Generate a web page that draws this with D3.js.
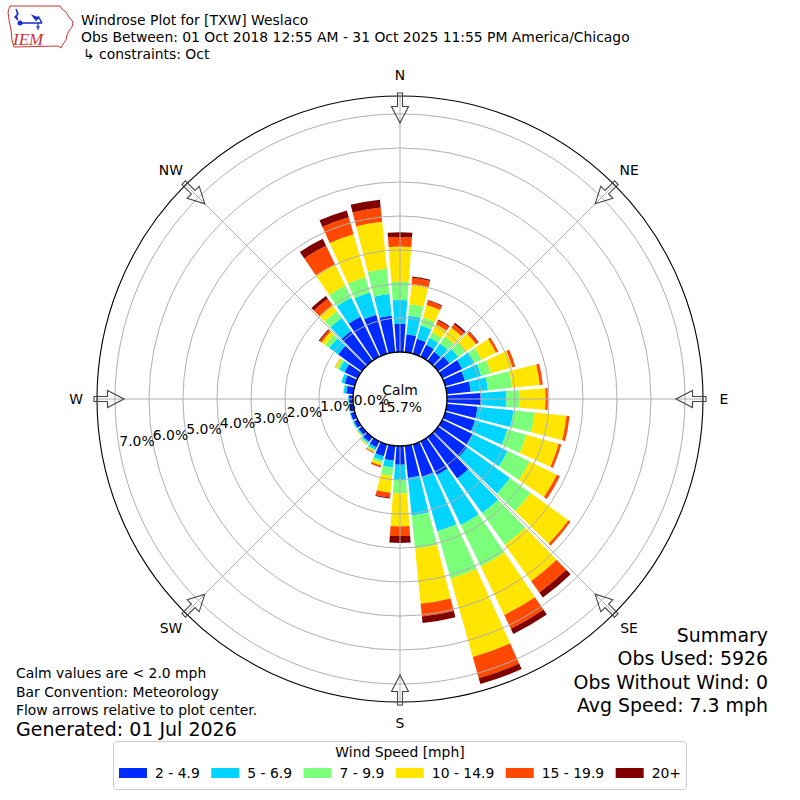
<!DOCTYPE html>
<html><head><meta charset="utf-8">
<script src="https://cdn.jsdelivr.net/npm/d3@7"></script>
<style>body{margin:0;background:#fff} svg{display:block} text{font-family:"DejaVu Sans",sans-serif;fill:#000}</style>
</head><body><svg id="c" width="800" height="800"></svg>
<script>
// ---- data ----
const directions = [0,10,20,30,40,50,60,70,80,90,100,110,120,130,140,150,160,170,180,190,200,210,220,230,240,250,260,270,280,290,300,310,320,330,340,350];
const speedBins = ["2 - 4.9","5 - 6.9","7 - 9.9","10 - 14.9","15 - 19.9","20+"];
const binColors = ["#002bff","#00d4ff","#7bff7b","#ffe500","#ff4800","#800000"];
// percent of observations per direction, one array per speed bin
const pct2to5   = [0.84,0.53,0.46,0.39,0.33,0.41,0.65,0.60,0.71,1.00,0.91,0.91,0.99,1.05,1.50,1.10,1.00,0.95,0.55,0.44,0.37,0.20,0.17,0.12,0.12,0.13,0.12,0.12,0.21,0.31,0.43,0.86,1.08,1.30,1.19,1.08];
const pct5to7   = [0.69,0.55,0.40,0.23,0.30,0.32,0.40,0.50,0.51,0.75,1.06,0.99,1.14,1.55,1.25,1.63,1.66,1.11,0.45,0.20,0.13,0.08,0.05,0.04,0.04,0.02,0.03,0.02,0.08,0.10,0.17,0.32,0.47,0.62,0.68,0.64];
const pct7to10  = [0.54,0.34,0.25,0.17,0.25,0.26,0.23,0.30,0.71,0.38,0.63,0.58,0.72,0.75,1.15,1.35,1.44,0.98,0.39,0.25,0.08,0.04,0.03,0.02,0.01,0.00,0.00,0.00,0.01,0.01,0.08,0.15,0.25,0.40,0.47,0.75];
const pct10to15 = [1.03,0.60,0.38,0.26,0.32,0.38,0.47,0.65,0.82,0.77,0.94,0.99,0.89,1.37,1.32,1.59,2.40,1.63,0.97,0.50,0.07,0.04,0.02,0.02,0.00,0.00,0.00,0.00,0.01,0.00,0.06,0.13,0.22,0.70,1.31,1.39];
const pct15to20 = [0.28,0.18,0.13,0.13,0.13,0.08,0.08,0.09,0.09,0.07,0.09,0.08,0.10,0.08,0.41,0.45,0.65,0.38,0.29,0.14,0.05,0.02,0.01,0.00,0.00,0.00,0.00,0.00,0.00,0.00,0.01,0.07,0.23,0.60,0.52,0.42];
const pct20plus = [0.14,0.04,0.02,0.03,0.05,0.02,0.00,0.00,0.00,0.00,0.00,0.00,0.00,0.00,0.18,0.17,0.18,0.19,0.20,0.03,0.01,0.01,0.00,0.00,0.00,0.00,0.00,0.00,0.00,0.00,0.00,0.03,0.10,0.23,0.21,0.23];
const radialTicks = [0,1,2,3,4,5,6,7];
const compassLabels = ["N","NE","E","SE","S","SW","W","NW"];
const compassAngles = [0,45,90,135,180,225,270,315];
const calmPct = 15.7;
const titleLines = ["Windrose Plot for [TXW] Weslaco","Obs Between: 01 Oct 2018 12:55 AM - 31 Oct 2025 11:55 PM America/Chicago","\u21b3 constraints: Oct"];
const noteLines = ["Calm values are < 2.0 mph","Bar Convention: Meteorology","Flow arrows relative to plot center."];
const generatedText = "Generated: 01 Jul 2026";
const summaryLines = ["Summary","Obs Used: 5926","Obs Without Wind: 0","Avg Speed: 7.3 mph"];
const legendTitle = "Wind Speed [mph]";

// ---- drawing ----
const svg = d3.select("#c");
const FONT = 13.9;
const cx = 400, cy = 399;
const r = d3.scaleLinear().domain([0,7]).range([47,285]);
const rOuter = r(7.53);
const ang = d3.scaleLinear().domain([0,360]).range([0,2*Math.PI]);
const deg = Math.PI/180;
const g = svg.append("g").attr("transform",`translate(${cx},${cy})`);

// stacked bars
const series = [pct2to5,pct5to7,pct7to10,pct10to15,pct15to20,pct20plus];
const rows = directions.map((d,i)=>{const o={dir:d}; speedBins.forEach((b,j)=>o[b]=series[j][i]); return o;});
const stacked = d3.stack().keys(speedBins)(rows);
const arc = d3.arc();
const halfW = ang(10)*0.85/2;
stacked.forEach((layer,j)=>{
  g.append("g").selectAll("path").data(layer.filter(d=>d[1]-d[0]>0)).join("path")
   .attr("d",d=>arc({innerRadius:r(d[0]),outerRadius:r(d[1]),startAngle:ang(d.data.dir)-halfW,endAngle:ang(d.data.dir)+halfW}))
   .attr("fill",binColors[j]);
});

// grid rings & spokes (on top of bars)
g.append("g").selectAll("circle").data(radialTicks.filter(t=>t>0)).join("circle")
  .attr("r",d=>r(d)).attr("fill","none").attr("stroke","#b0b0b0").attr("stroke-width",1);
g.append("g").selectAll("line").data(compassAngles).join("line")
  .attr("x1",a=>r(0)*Math.sin(a*deg)).attr("y1",a=>-r(0)*Math.cos(a*deg))
  .attr("x2",a=>rOuter*Math.sin(a*deg)).attr("y2",a=>-rOuter*Math.cos(a*deg))
  .attr("stroke","#b0b0b0").attr("stroke-width",1);

// outer circle
g.append("circle").attr("r",rOuter).attr("fill","none").attr("stroke","#000").attr("stroke-width",1.1);

// calm circle
g.append("circle").attr("r",r(0)).attr("fill","#fff").attr("stroke","#000").attr("stroke-width",1.4);
g.append("text").attr("x",0).attr("y",-9).attr("text-anchor","middle").attr("dominant-baseline","central").attr("font-size",FONT).text("Calm");
g.append("text").attr("x",0).attr("y",8).attr("text-anchor","middle").attr("dominant-baseline","central").attr("font-size",FONT).text(calmPct.toFixed(1)+"%");

// radial tick labels
const la = 9.9*deg;
g.append("g").selectAll("text").data(radialTicks).join("text")
  .attr("x",t=>-(r(t)-18)*Math.cos(la)).attr("y",t=>(r(t)-18)*Math.sin(la)-4)
  .attr("text-anchor","middle").attr("dominant-baseline","central").attr("font-size",FONT)
  .text(t=>t.toFixed(1)+"%");

// flow arrows
const arrowPath = "M0,-276 L8.5,-292.5 L2.5,-292.5 L2.5,-306 L-2.5,-306 L-2.5,-292.5 L-8.5,-292.5 Z";
g.append("g").selectAll("path").data(compassAngles).join("path")
  .attr("d",arrowPath).attr("transform",a=>`rotate(${a})`)
  .attr("fill","none").attr("stroke","#444").attr("stroke-width",1.1).attr("stroke-linejoin","miter");

// compass labels
g.append("g").selectAll("text").data(compassLabels).join("text")
  .attr("x",(d,i)=>324*Math.sin(compassAngles[i]*deg)).attr("y",(d,i)=>-324*Math.cos(compassAngles[i]*deg))
  .attr("text-anchor","middle").attr("dominant-baseline","central").attr("font-size",FONT).text(d=>d);

// titles
const baselines = [25,42,59];
svg.append("g").selectAll("text").data(titleLines).join("text")
  .attr("x",(d,i)=>i===2?83:81).attr("y",(d,i)=>baselines[i]).attr("font-size",FONT).text(d=>d);

// logo
const logo = svg.append("g");
logo.append("path").attr("d","M10,6 L60,6 L62,9 L66,12 L69,17 L73,22 L72,27 L69,31 L67,35 L66,40 L63,44 L61,48 L58,46 L14,47 L12,40 L11,30 L9,20 L8,12 Z")
  .attr("fill","none").attr("stroke","#d03030").attr("stroke-width",1);
logo.append("path").attr("d","M19,23 L42,23 M38,16 L42,23 M33,16 L38,18 L36,20 Z M16,9 L18,14 L15,17 L18,20").attr("fill","#1a2bd0").attr("stroke","#1a2bd0").attr("stroke-width",1.5);
logo.append("circle").attr("cx",20).attr("cy",23).attr("r",2.5).attr("fill","#1a2bd0");
logo.append("path").attr("d","M38,23 L38,30 M36,27 L40,27").attr("stroke","#1a2bd0").attr("stroke-width",1.2);
logo.append("text").attr("x",13).attr("y",45).attr("font-size",17).attr("font-style","italic")
  .style("font-family","'Liberation Serif',serif").style("fill","#d03030").text("IEM");

// notes bottom-left
svg.append("g").selectAll("text").data(noteLines).join("text")
  .attr("x",16).attr("y",(d,i)=>678+i*18.5).attr("font-size",FONT).text(d=>d);
svg.append("text").attr("x",16).attr("y",736).attr("font-size",19).text(generatedText);

// summary bottom-right
svg.append("g").selectAll("text").data(summaryLines).join("text")
  .attr("x",768).attr("y",(d,i)=>642+i*23.3).attr("text-anchor","end").attr("font-size",18.9).text(d=>d);

// legend
const lg = svg.append("g");
lg.append("rect").attr("x",113.5).attr("y",741.5).attr("width",573).attr("height",48).attr("rx",3)
  .attr("fill","#fff").attr("stroke","#cccccc").attr("stroke-width",1);
lg.append("text").attr("x",400).attr("y",752).attr("text-anchor","middle").attr("dominant-baseline","central").attr("font-size",FONT).text(legendTitle);
const items = lg.selectAll("g.it").data(speedBins).join("g").attr("class","it");
items.append("rect").attr("width",28).attr("height",10).attr("fill",(d,i)=>binColors[i]);
items.append("text").attr("x",36).attr("y",5).attr("dominant-baseline","central").attr("font-size",FONT).text(d=>d);
const widths = [];
items.each(function(){ widths.push(36 + this.querySelector("text").getComputedTextLength()); });
const totalW = d3.sum(widths);
const gap = (681-119-totalW)/(speedBins.length-1);
let xpos = 119;
items.each(function(d,i){ d3.select(this).attr("transform",`translate(${xpos},768)`); xpos += widths[i]+gap; });
</script></body></html>
